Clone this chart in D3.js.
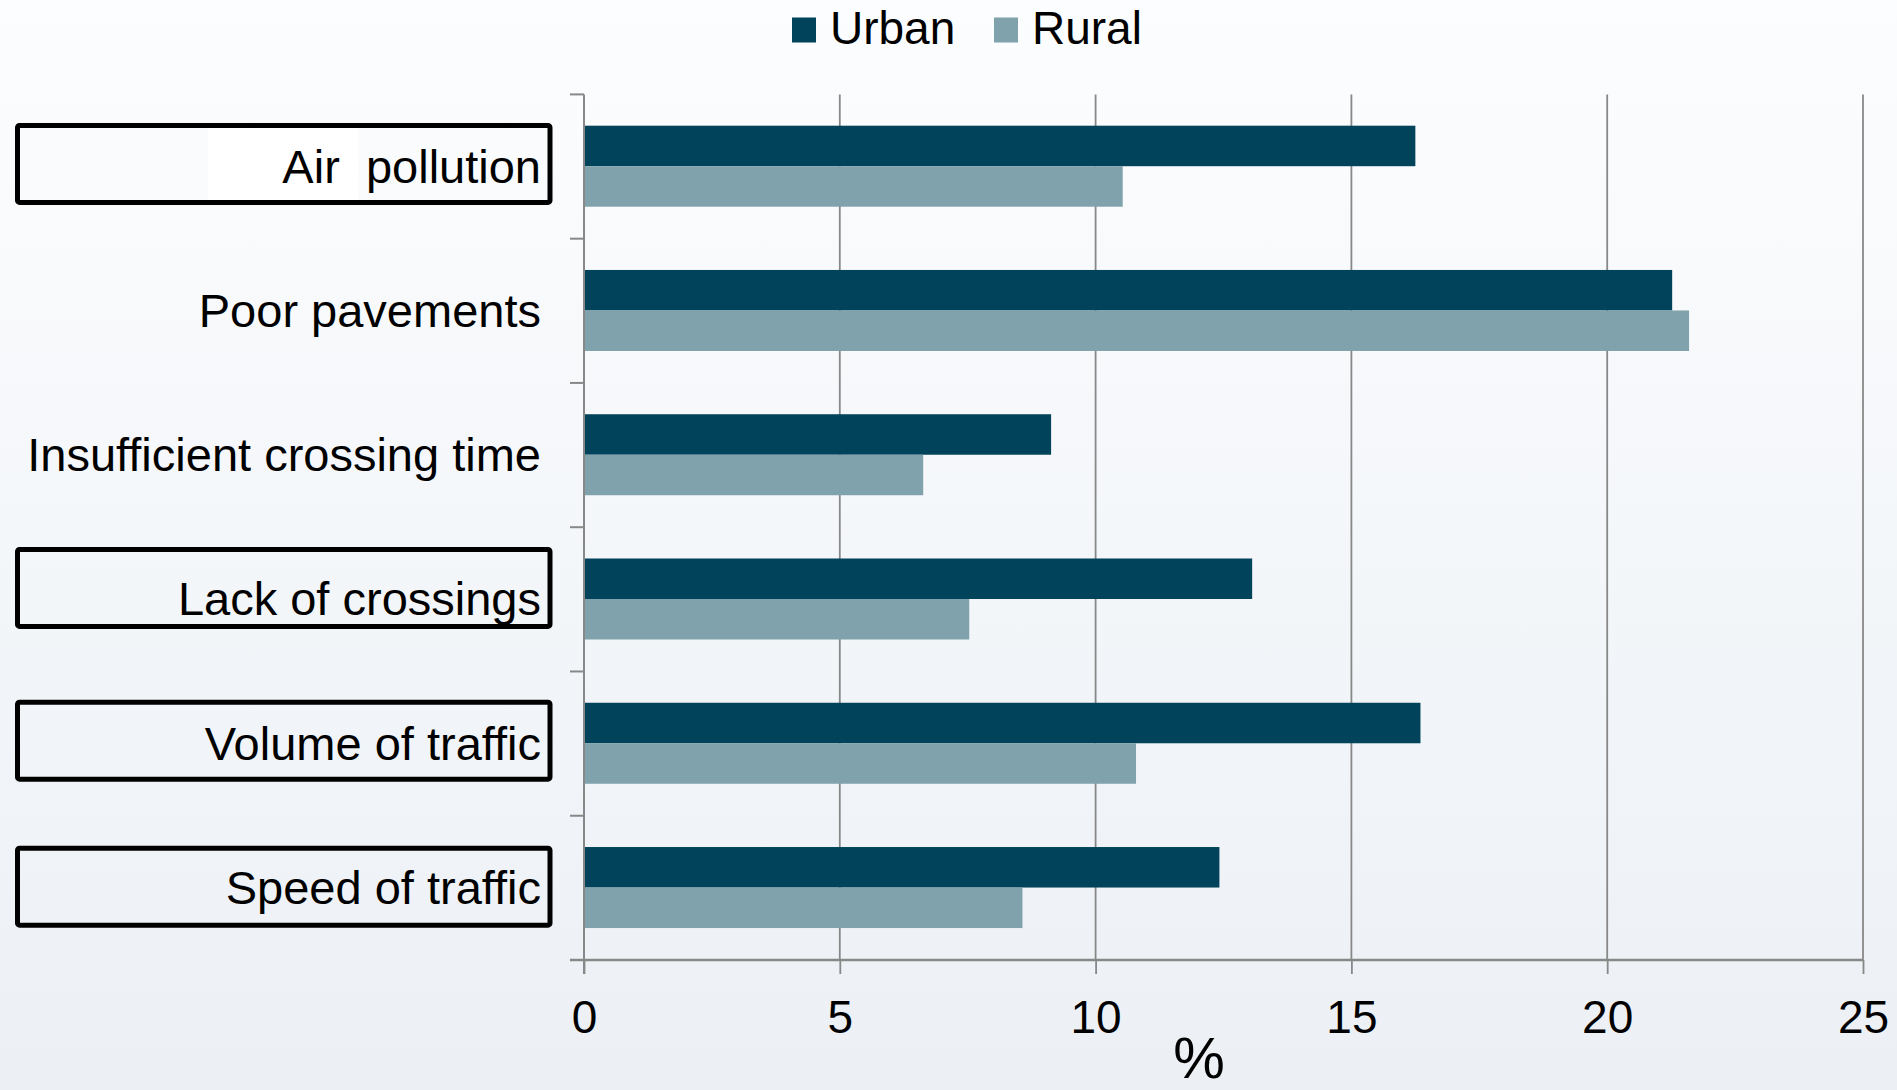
<!DOCTYPE html>
<html>
<head>
<meta charset="utf-8">
<script src="https://cdn.jsdelivr.net/npm/d3@7"></script>
<style>
  html, body { margin: 0; padding: 0; background: #fff; }
  svg { display: block; }
  svg text { font-family: "Liberation Sans", Arial, sans-serif; }
</style>
</head>
<body>
<svg id="chart" width="1897" height="1090"></svg>
<script>
// ---- data ----
const categories = ["Air  pollution", "Poor pavements", "Insufficient crossing time", "Lack of crossings", "Volume of traffic", "Speed of traffic"];
const seriesNames = ["Urban", "Rural"];
const urbanValues = [16.25, 21.27, 9.13, 13.06, 16.35, 12.42];
const ruralValues = [10.53, 21.6, 6.63, 7.53, 10.79, 8.57];
const xTicks = [0, 5, 10, 15, 20, 25];
const xTitle = "%";
const boxedCategories = ["Air  pollution", "Lack of crossings", "Volume of traffic", "Speed of traffic"];

// ---- layout ----
const W = 1897, H = 1090;
const plot = { left: 584, right: 1863, top: 94.4, bottom: 960 };
const colors = { Urban: "#01435a", Rural: "#7fa2ac" };
const fontSize = 46;
const FF = "'Liberation Sans', Arial, sans-serif";

const svg = d3.select("#chart");

// background gradient
const defs = svg.append("defs");
const grad = defs.append("linearGradient").attr("id", "bg").attr("x1", 0).attr("y1", 0).attr("x2", 0).attr("y2", 1);
grad.append("stop").attr("offset", "0%").attr("stop-color", "#fcfdfe");
grad.append("stop").attr("offset", "100%").attr("stop-color", "#ecf0f5");
svg.append("rect").attr("width", W).attr("height", H).attr("fill", "url(#bg)");

// scales
const x = d3.scaleLinear().domain([0, 25]).range([plot.left, plot.right]);
const y0 = d3.scaleBand().domain(categories).range([plot.top, plot.bottom]).padding(0);
const groupOffset = 31.3, barH = 40.5;
const y1 = d3.scaleBand().domain(seriesNames).range([groupOffset, groupOffset + 2 * barH]).padding(0);

const rows = categories.map((c, i) => ({ cat: c, Urban: urbanValues[i], Rural: ruralValues[i] }));

// gridlines
svg.append("g").selectAll("line").data(xTicks.slice(1)).join("line")
  .attr("x1", d => x(d)).attr("x2", d => x(d))
  .attr("y1", plot.top).attr("y2", plot.bottom)
  .attr("stroke", "#888").attr("stroke-width", 1.8);

// bars
const groups = svg.append("g").selectAll("g").data(rows).join("g")
  .attr("transform", d => `translate(0,${y0(d.cat)})`);
groups.selectAll("rect").data(d => seriesNames.map(s => ({ s, v: d[s] }))).join("rect")
  .attr("x", x(0))
  .attr("y", d => y1(d.s))
  .attr("width", d => x(d.v) - x(0))
  .attr("height", y1.bandwidth())
  .attr("fill", d => colors[d.s]);

// x axis
const xAxis = d3.axisBottom(x).tickValues(xTicks).tickSize(14).tickPadding(26).tickSizeOuter(0);
const gx = svg.append("g").attr("transform", `translate(0,${plot.bottom})`).call(xAxis);
gx.attr("font-family", FF);
gx.select(".domain").attr("d", `M${plot.left - 14},0H${plot.right}`).attr("stroke", "#888").attr("stroke-width", 2.5);
gx.selectAll(".tick line").attr("stroke", "#888").attr("stroke-width", 1.8);
gx.selectAll(".tick text").attr("font-size", fontSize).attr("fill", "#000").attr("font-family", FF);

// y axis line and boundary ticks
const boundaries = categories.map(c => y0(c));
svg.append("line").attr("x1", plot.left).attr("x2", plot.left)
  .attr("y1", plot.top).attr("y2", plot.bottom + 14)
  .attr("stroke", "#888").attr("stroke-width", 2);
svg.append("g").selectAll("line").data(boundaries).join("line")
  .attr("x1", plot.left - 14).attr("x2", plot.left)
  .attr("y1", d => d).attr("y2", d => d)
  .attr("stroke", "#888").attr("stroke-width", 2);

// label boxes (annotations around some category labels)
const boxOffsets = { "Air  pollution": 31, "Lack of crossings": 22.2, "Volume of traffic": 30.7, "Speed of traffic": 32.4 };
const boxLeft = 17.5, boxRight = 550, boxH = 77;
svg.append("rect").attr("x", 208).attr("y", y0("Air  pollution") + boxOffsets["Air  pollution"] + 2.5)
  .attr("width", 150).attr("height", boxH - 5).attr("fill", "#ffffff");
svg.append("g").selectAll("rect").data(boxedCategories).join("rect")
  .attr("x", boxLeft).attr("width", boxRight - boxLeft)
  .attr("y", d => y0(d) + boxOffsets[d]).attr("height", boxH)
  .attr("rx", 2).attr("fill", "none").attr("stroke", "#000").attr("stroke-width", 5);

// category labels
svg.append("g").selectAll("text").data(categories).join("text")
  .attr("x", 541)
  .attr("y", d => y0(d) + y0.bandwidth() / 2)
  .attr("dy", "0.34em")
  .attr("text-anchor", "end")
  .attr("font-size", 47)
  .attr("font-family", FF)
  .attr("fill", "#000")
  .style("white-space", "pre")
  .text(d => d);

// x axis title
svg.append("text").attr("x", 1199).attr("y", 1078).attr("text-anchor", "middle")
  .attr("font-size", 58).attr("font-family", FF).attr("fill", "#000").text(xTitle);

// legend
const legendItems = [{ s: "Urban", x: 792 }, { s: "Rural", x: 994 }];
const lg = svg.append("g").selectAll("g").data(legendItems).join("g")
  .attr("transform", d => `translate(${d.x},0)`);
lg.append("rect").attr("x", 0).attr("y", 17.5).attr("width", 24).attr("height", 25)
  .attr("fill", d => colors[d.s]);
lg.append("text").attr("x", 38).attr("y", 44.3).attr("font-size", fontSize).attr("font-family", FF).attr("fill", "#000")
  .text(d => d.s);
</script>
</body>
</html>
